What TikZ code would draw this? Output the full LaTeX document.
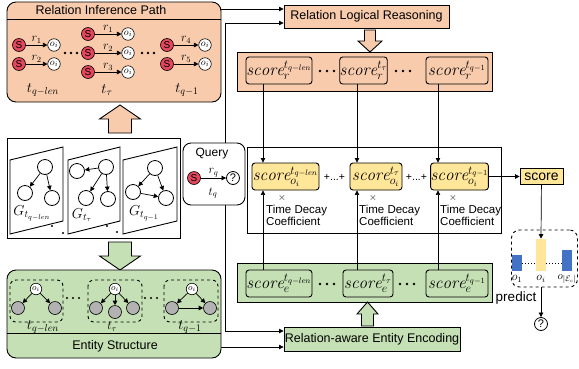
\documentclass[tikz,border=0pt]{standalone}
\usepackage{fontspec}
\setsansfont{Liberation Sans}
\usetikzlibrary{arrows.meta,positioning}
\definecolor{peach}{HTML}{F8CBAD}
\definecolor{leaf}{HTML}{C5E0B4}
\definecolor{gold}{HTML}{FFE699}
\definecolor{sred}{HTML}{E2475B}
\definecolor{barblue}{HTML}{4472C4}
\newcommand{\tLen}{t_{q-len}}
\newcommand{\tTau}{t_{\tau}}
\newcommand{\tLast}{t_{q-1}}
\newcommand{\scoreTxt}[2]{$\mathit{score}_{#1}^{#2}$}
% block arrow: x, tip y, tail y, body half width, head half width, colour
\newcommand{\blockArrow}[6]{%
  \draw[line width=0.9pt, fill=#6] (#1,#2) -- (#1+#5,{#2+(#3-#2)*0.5}) -- (#1+#4,{#2+(#3-#2)*0.5})
     -- (#1+#4,#3) -- (#1-#4,#3) -- (#1-#4,{#2+(#3-#2)*0.5}) -- (#1-#5,{#2+(#3-#2)*0.5}) -- cycle;}

\tikzset{
  panel/.style={draw, line width=0.9pt, rounded corners=9pt, inner sep=0pt},
  ttl/.style={font=\sffamily\fontsize{12.5}{14}\selectfont, inner sep=0pt},
  snode/.style={circle, draw, fill=sred, line width=0.6pt, inner sep=0pt, minimum size=13pt,
    font=\sffamily\fontsize{10}{10}\selectfont},
  onode/.style={circle, draw, fill=white, line width=0.6pt, inner sep=0pt, minimum size=12.5pt,
    font=\fontsize{10}{10}\selectfont},
  gnode/.style={circle, draw, fill=gray!60, line width=0.6pt, inner sep=0pt, minimum size=13pt},
  wnode/.style={circle, draw, fill=white, line width=0.8pt, inner sep=0pt, minimum size=15pt},
  link/.style={-{Triangle[length=4.5pt,width=4.5pt]}, line width=0.7pt},
  scorebox/.style={draw, line width=0.9pt, rounded corners=3pt, minimum height=27pt, inner sep=0pt,
    font=\fontsize{17}{19}\selectfont},
  lbl/.style={font=\fontsize{12}{13}\selectfont, inner sep=1pt},
  tlbl/.style={font=\fontsize{14}{15}\selectfont, inner sep=0pt},
  decay/.style={font=\sffamily\fontsize{11.5}{12}\selectfont, align=left, anchor=west, inner sep=0pt},
  bar/.style={anchor=south, minimum width=10pt, inner sep=0pt},
}

\begin{document}
\begin{tikzpicture}[x=1pt, y=-1pt]
  \useasboundingbox (0,0) rectangle (579,368);

  % connectors running behind the boxes
  \coordinate (ripout) at (218,9);
  \coordinate (qtop) at (225,23);
  \coordinate (qbot) at (225,331);
  \coordinate (esout) at (221,347);

  \node[draw, fill=peach, line width=0.9pt, minimum width=165pt, minimum height=23pt, ttl]
     (rlr) at (366.5,16.5) {Relation Logical Reasoning};
  \node[draw, fill=leaf, line width=0.9pt, minimum width=176pt, minimum height=24pt, ttl]
     (ree) at (372,339) {Relation-aware Entity Encoding};

  \draw[link] (ripout) -- (ripout -| rlr.west);
  \draw[link] (qbot) -- (qtop) -- (qtop -| rlr.west);
  \draw[link] (qtop) -- (qbot) -- (qbot -| ree.west);
  \draw[link] (esout) -- (esout -| ree.west);

  % relation inference path
  \node[panel, fill=peach, minimum width=214pt, minimum height=100pt] (rip) at (114,52) {};
  \draw[line width=0.9pt] (rip.west |- 0,19) -- (rip.east |- 0,19);
  \node[ttl] (riptitle) at (101,10) {Relation Inference Path};
  \foreach \sx/\ox/\y/\r in {19/54/45/1, 19/54/64/2, 88/128/34/1, 88/128/53/2, 88/128/72/3,
                             167/205/45/4, 167/205/64/5}
  {
    \node[snode] (s\sx-\y) at (\sx,\y) {S};
    \node[onode] (o\sx-\y) at (\ox,\y) {$o_i$};
    \draw[link] (s\sx-\y) -- node[above, lbl] {$r_{\r}$} (o\sx-\y);
  }
  \foreach \x in {65,71,77,142,148,154}
    \fill (\x,53) circle (1.4pt);
  \node[tlbl] (rt1) at (43,90) {$\tLen$};
  \node[tlbl] (rt2) at (107,90) {$\tTau$};
  \node[tlbl] (rt3) at (187,90) {$\tLast$};

  \blockArrow{120}{105}{133}{11.5}{20.5}{peach}

  % graph snapshots
  \node[draw, line width=0.9pt, minimum width=173pt, minimum height=100pt] (snaps) at (93.5,188) {};
  \foreach \l/\r in {10/63, 68/120, 123/177}
    \draw[line width=0.9pt, fill=white] (\l,160) -- (\r,147) -- (\r,221) -- (\l,234) -- cycle;
  \node[wnode] (a1) at (45,167) {};
  \node[wnode] (a2) at (25,193) {};
  \node[wnode] (a3) at (52,198) {};
  \draw[link] (a1) -- (a2);
  \draw[link] (a1) -- (a3);
  \node[wnode] (b1) at (106,167) {};
  \node[wnode] (b2) at (77,171) {};
  \node[wnode] (b3) at (86,198) {};
  \node[wnode] (b4) at (108,199) {};
  \draw[link] (b1) -- (b2);
  \draw[link] (b1) -- (b3);
  \draw[link] (b1) -- (b4);
  \node[wnode] (c1) at (155,168) {};
  \node[wnode] (c2) at (133,192) {};
  \node[wnode] (c3) at (166,198) {};
  \draw[link] (c1) -- (c2);
  \draw[link] (c1) -- (c3);
  \draw[link] (c2) -- (c3);
  \node[tlbl] (g1) at (32,213) {$G_{\tLen}$};
  \node[tlbl] (g2) at (82,215) {$G_{\tTau}$};
  \node[tlbl] (g3) at (144,213) {$G_{\tLast}$};
  \foreach \x/\y in {52/226, 63/233, 107/226, 117/232}
    \fill (\x,\y) circle (1.1pt);

  \blockArrow{120}{270}{242}{11.5}{20.5}{leaf}

  % entity structure
  \node[panel, fill=leaf, minimum width=214pt, minimum height=88pt] (es) at (114,314) {};
  \draw[line width=0.9pt] (es.west |- 0,333) -- (es.east |- 0,333);
  \node[ttl] (estitle) at (115,346) {Entity Structure};
  \foreach \l/\r in {10/63, 88/142, 164/218}
    \draw[dashed, line width=0.9pt, rounded corners=6pt] (\l,280) rectangle (\r,322);
  \node[onode, minimum size=11.5pt, font=\fontsize{9}{9}\selectfont] (e1) at (36,289) {$o_i$};
  \node[gnode] (e1a) at (18,308) {};
  \node[gnode] (e1b) at (55,308) {};
  \draw[link] (e1) -- (e1a);
  \draw[link] (e1) -- (e1b);
  \node[onode, minimum size=11.5pt, font=\fontsize{9}{9}\selectfont] (e2) at (115,289) {$o_i$};
  \node[gnode] (e2a) at (96,308) {};
  \node[gnode] (e2b) at (115,312) {};
  \node[gnode] (e2c) at (133,308) {};
  \draw[link] (e2) -- (e2a);
  \draw[link] (e2) -- (e2b);
  \draw[link] (e2) -- (e2c);
  \node[onode, minimum size=11.5pt, font=\fontsize{9}{9}\selectfont] (e3) at (192,289) {$o_i$};
  \node[gnode] (e3a) at (172,308) {};
  \node[gnode] (e3b) at (210,308) {};
  \draw[link] (e3) -- (e3a);
  \draw[link] (e3) -- (e3b);
  \draw[link] (e3a) -- (e3b);
  \foreach \x in {67,73,79,145,151,157}
    \fill (\x,298) circle (1.1pt);
  \node[tlbl] (et1) at (43,327) {$\tLen$};
  \node[tlbl, font=\fontsize{12}{13}\selectfont] (et2) at (112,327) {$\tTau$};
  \node[tlbl] (et3) at (190,327) {$\tLast$};

  % query
  \node[panel, rounded corners=8pt, fill=white, minimum width=62pt, minimum height=62pt] (query) at (214,174) {};
  \node[ttl, font=\sffamily\fontsize{12}{13}\selectfont] (qtitle) at (212,154) {Query};
  \node[snode] (qs) at (194,178) {S};
  \node[wnode, minimum size=13pt, font=\sffamily\fontsize{11}{11}\selectfont] (qo) at (233,178) {?};
  \draw[link] (qs) -- node[above, lbl] {$r_q$} (qo);
  \node[lbl] (qt) at (213,193) {$t_q$};

  % score panels
  \blockArrow{370}{52}{30}{5.5}{12}{peach}
  \node[draw, fill=peach, line width=0.9pt, minimum width=255pt, minimum height=39pt] (rpanel) at (364.5,71.5) {};
  \node[scorebox, fill=peach, minimum width=66pt] (sr1) at (279,70.5) {\scoreTxt{r}{\tLen}};
  \node[scorebox, fill=peach, minimum width=41pt] (sr2) at (363.5,70.5) {\scoreTxt{r}{\tTau}};
  \node[scorebox, fill=peach, minimum width=62pt] (sr3) at (457,70.5) {\scoreTxt{r}{\tLast}};
  \foreach \x in {320,327,334,396,403,410}
    \fill (\x,71) circle (1.4pt);

  \node[draw, line width=0.9pt, minimum width=254pt, minimum height=86pt] (sumpanel) at (374,190) {};
  \node[scorebox, fill=gold, minimum width=67pt] (so1) at (285.5,176.5) {\scoreTxt{o_i}{\tLen}};
  \node[scorebox, fill=gold, minimum width=52pt] (so2) at (376,176.5) {\scoreTxt{o_i}{\tTau}};
  \node[scorebox, fill=gold, minimum width=57pt] (so3) at (459.5,176.5) {\scoreTxt{o_i}{\tLast}};
  \node[ttl, font=\sffamily\fontsize{10.5}{12}\selectfont] (plus1) at (334.5,177) {+...+};
  \node[ttl, font=\sffamily\fontsize{10.5}{12}\selectfont] (plus2) at (416.5,177) {+...+};
  \foreach \cx/\tx in {282/266, 373/359, 453/440}
  {
    \node[font=\fontsize{10}{10}\selectfont, inner sep=0pt] at (\cx,198) {$\times$};
    \node[decay] at (\tx,215) {Time Decay\\Coefficient};
  }

  \node[draw, fill=leaf, line width=0.9pt, minimum width=255pt, minimum height=39pt] (epanel) at (364.5,282.5) {};
  \node[scorebox, fill=leaf, minimum width=66pt] (se1) at (279,283.5) {\scoreTxt{e}{\tLen}};
  \node[scorebox, fill=leaf, minimum width=50pt] (se2) at (368,283.5) {\scoreTxt{e}{\tTau}};
  \node[scorebox, fill=leaf, minimum width=62pt] (se3) at (457,283.5) {\scoreTxt{e}{\tLast}};
  \foreach \x in {320,327,334,400,407,414}
    \fill (\x,284) circle (1.4pt);
  \blockArrow{367.5}{302}{326}{6}{10.5}{leaf}

  \coordinate (col1) at (263,0);
  \coordinate (col2) at (357,0);
  \coordinate (col3) at (438,0);
  \draw[link] (sr1.south -| col1) -- (so1.north -| col1);
  \draw[link] (sr2.south -| col2) -- (so2.north -| col2);
  \draw[link] (sr3.south -| col3) -- (so3.north -| col3);
  \draw[link] (se1.north -| col1) -- (so1.south -| col1);
  \draw[link] (se2.north -| col2) -- (so2.south -| col2);
  \draw[link] (se3.north -| col3) -- (so3.south -| col3);

  % prediction
  \node[draw, fill=gold, line width=0.8pt, minimum width=43pt, minimum height=16pt, inner sep=0pt,
    font=\sffamily\fontsize{14}{14}\selectfont] (score) at (541.5,176.5) {score};
  \draw[link] (so3) -- (score);
  \node[draw, dashed, line width=0.9pt, rounded corners=8pt, minimum width=66pt, minimum height=57pt]
    (cand) at (544.5,258.5) {};
  \node[bar, fill=barblue, minimum height=16pt] (b1) at (517,271) {};
  \node[bar, fill=gold, minimum height=32pt] (bi) at (541,271) {};
  \node[bar, fill=barblue, minimum height=21pt] (bn) at (567,271) {};
  \draw[dotted, line width=1pt] (b1.east |- 0,263) -- (bi.west |- 0,263);
  \draw[dotted, line width=1pt] (bi.east |- 0,263) -- (bn.west |- 0,263);
  \node[font=\fontsize{12}{12}\selectfont, inner sep=0pt] (l1) at (517,279) {$o_1$};
  \node[font=\fontsize{12}{12}\selectfont, inner sep=0pt] (li) at (541,279) {$o_i$};
  \node[font=\fontsize{11}{11}\selectfont, inner sep=0pt] (ln) at (567,279) {$o_{|\mathcal{E}_c|}$};
  \draw[link] (score) -- (bi.north);
  \node[wnode, minimum size=13pt, font=\sffamily\fontsize{11}{11}\selectfont] (ans) at (541,324) {?};
  \draw[link] (cand.south -| ans) -- (ans);
  \node[ttl, font=\sffamily\fontsize{13.5}{15}\selectfont] (pred) at (516,298) {predict};
\end{tikzpicture}
\end{document}
